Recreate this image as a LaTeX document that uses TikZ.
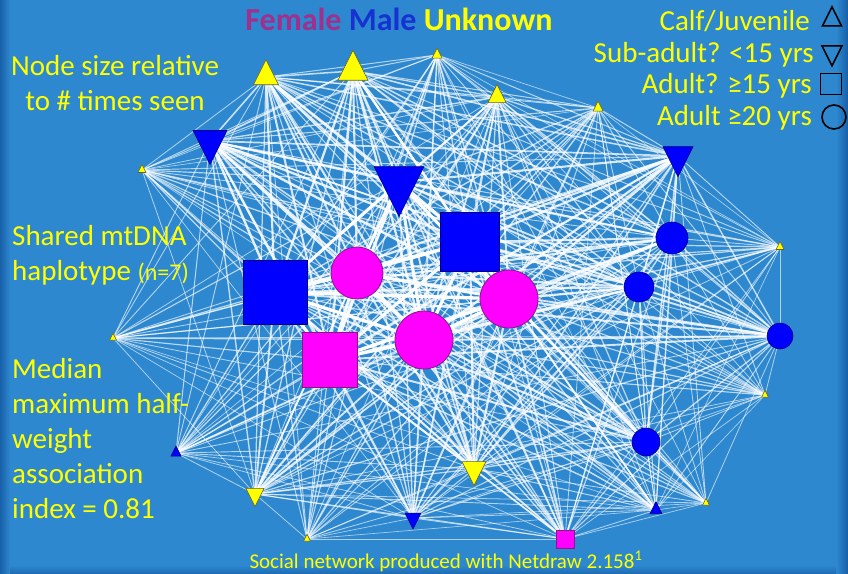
\documentclass[tikz,border=0pt]{standalone}
\usepackage{fontspec}
\setmainfont{Carlito}
\usetikzlibrary{shapes.geometric}

\definecolor{sea}{RGB}{45,136,207}
\definecolor{deepsea}{RGB}{20,88,160}
\definecolor{lemon}{RGB}{255,255,0}
\definecolor{lemonedge}{RGB}{105,100,35}
\definecolor{malecol}{RGB}{0,0,255}
\definecolor{maleedge}{RGB}{0,0,130}
\definecolor{femcol}{RGB}{255,0,255}
\definecolor{femedge}{RGB}{135,25,135}
\definecolor{femtitle}{RGB}{160,48,140}
\definecolor{maletitle}{RGB}{22,50,210}

\pgfdeclarelayer{back}
\pgfdeclarelayer{ties}
\pgfsetlayers{back,ties,main}

% who is seen with whom: name/weight
\newcommand\herd{u1/0.6, u2/0.65, u3/0.35, u4/0.5, u5/0.35, u6/0.3, u7/0.3,
  u8/0.28, u9/0.28, u10/0.6, u11/0.5, u12/0.28, u13/0.28,
  m1/0.7, m2/0.9, m3/0.65, m4/0.95, m5/1, m6/0.6, m7/0.6, m8/0.55, m9/0.58,
  m10/0.32, m11/0.42, m12/0.38,
  f1/0.9, f2/1, f3/1, f4/0.95, f5/0.45}

\tikzset{
  unknown/.style={fill=lemon, draw=lemonedge, line width=0.6pt},
  male/.style={fill=malecol, draw=maleedge, line width=0.6pt},
  female/.style={fill=femcol, draw=femedge, line width=0.8pt},
  calf/.style={isosceles triangle, isosceles triangle apex angle=53.13,
    shape border rotate=90, inner sep=0pt, minimum width=#1pt, minimum height=#1pt},
  subadult/.style={isosceles triangle, isosceles triangle apex angle=53.13,
    shape border rotate=270, inner sep=0pt, minimum width=#1pt, minimum height=#1pt},
  adultq/.style={rectangle, inner sep=0pt, minimum size=#1pt},
  adult/.style={circle, inner sep=0pt, minimum size=#1pt},
  note/.style={text=lemon, font=\fontsize{29}{35}\selectfont, inner sep=0pt},
  tie/.style={white, line cap=round},
}

\begin{document}
\begin{tikzpicture}[x=1pt, y=-1pt]
  \useasboundingbox (0,0) rectangle (848,573);

  % unknown sex
  \node[unknown, calf=25] (u1) at (266,77) {};
  \node[unknown, calf=30] (u2) at (353,71) {};
  \node[unknown, calf=10] (u3) at (437,55) {};
  \node[unknown, calf=18] (u4) at (497,97) {};
  \node[unknown, calf=10] (u5) at (598,108) {};
  \node[unknown, calf=8] (u6) at (142,170) {};
  \node[unknown, calf=8] (u7) at (780,247) {};
  \node[unknown, calf=7] (u8) at (113,338) {};
  \node[unknown, calf=7] (u9) at (765,395) {};
  \node[unknown, subadult=24] (u10) at (474,469) {};
  \node[unknown, subadult=18] (u11) at (255,494) {};
  \node[unknown, calf=7] (u12) at (307,539) {};
  \node[unknown, calf=7] (u13) at (706,503) {};

  % males
  \node[male, subadult=34] (m1) at (210,141) {};
  \node[male, subadult=50] (m2) at (399,182) {};
  \node[male, subadult=30] (m3) at (678,156) {};
  \node[male, adultq=59] (m4) at (470,242) {};
  \node[male, adultq=64] (m5) at (275,292) {};
  \node[male, adult=32] (m6) at (672,238) {};
  \node[male, adult=30] (m7) at (639,287) {};
  \node[male, adult=26] (m8) at (780,336) {};
  \node[male, adult=28] (m9) at (646,442) {};
  \node[male, calf=10] (m10) at (176,453) {};
  \node[male, subadult=16] (m11) at (413,518) {};
  \node[male, calf=12] (m12) at (656,510) {};

  % females
  \node[female, adult=52] (f1) at (357,273) {};
  \node[female, adult=58] (f2) at (509,299) {};
  \node[female, adult=58] (f3) at (424,340) {};
  \node[female, adultq=55] (f4) at (330,360) {};
  \node[female, adultq=18] (f5) at (565,539) {};

  \begin{pgfonlayer}{ties}
  \foreach \a/\wa [count=\i] in \herd {
    \foreach \b/\wb [count=\j] in \herd {
      \ifnum\j>\i
        \pgfmathsetmacro\pw{\wa*\wb}
        \ifdim\pw pt>0.1pt
          \pgfmathsetmacro\lw{0.35+3.0*\pw}
          \pgfmathsetmacro\op{0.55+0.45*\pw}
          \draw[tie, line width=\lw pt, draw opacity=\op] (\a) -- (\b);
        \fi
      \fi
    }
  }
  \end{pgfonlayer}

  % texts
  \node[anchor=base, inner sep=0pt, font=\bfseries\fontsize{32}{36}\selectfont] (title) at (399,30)
    {\textcolor{femtitle}{Female} \textcolor{maletitle}{Male} \textcolor{lemon}{Unknown}};
  \node[note, anchor=base, align=center] (sizenote) at (115,110) {Node size relative\\to \# times seen};
  \node[note, anchor=base west, align=left] (mtdna) at (12,280)
    {Shared mtDNA\\haplotype {\fontsize{24}{35}\selectfont(n=7)}};
  \node[note, anchor=base west, align=left] (hwai) at (12,518)
    {Median\\maximum half-\\weight\\association\\index = 0.81};
  \node[text=lemon, inner sep=0pt, anchor=base, font=\fontsize{21}{24}\selectfont] (credit) at (446,568)
    {Social network produced with Netdraw 2.158\textsuperscript{1}};

  % key
  \node[note, anchor=base east] (kcalf) at (810,30) {Calf/Juvenile};
  \node[note, anchor=base east] (ksub) at (814,62) {Sub-adult? <15 yrs};
  \node[note, anchor=base east] (kadq) at (812,93) {Adult? ≥15 yrs};
  \node[note, anchor=base east] (kad) at (812,125) {Adult ≥20 yrs};
  \node[calf=19, draw=black, line width=1.6pt] (scalf) at (832,20) {};
  \node[subadult=20, draw=black, line width=1.6pt] (ssub) at (832,52) {};
  \node[adultq=21, draw=black, line width=1.6pt] (sadq) at (831,84) {};
  \node[adult=24, draw=black, line width=1.6pt] (sad) at (834,117) {};

  \begin{pgfonlayer}{back}
    \fill[sea] (-2,-2) rectangle (850,575);
    \shade[left color=deepsea, right color=sea] (-2,-2) rectangle (10,575);
    \shade[left color=sea, right color=deepsea] (836,-2) rectangle (850,575);
    \shade[top color=sea, bottom color=deepsea!70!sea] (10,565) rectangle (836,575);
  \end{pgfonlayer}
\end{tikzpicture}
\end{document}
